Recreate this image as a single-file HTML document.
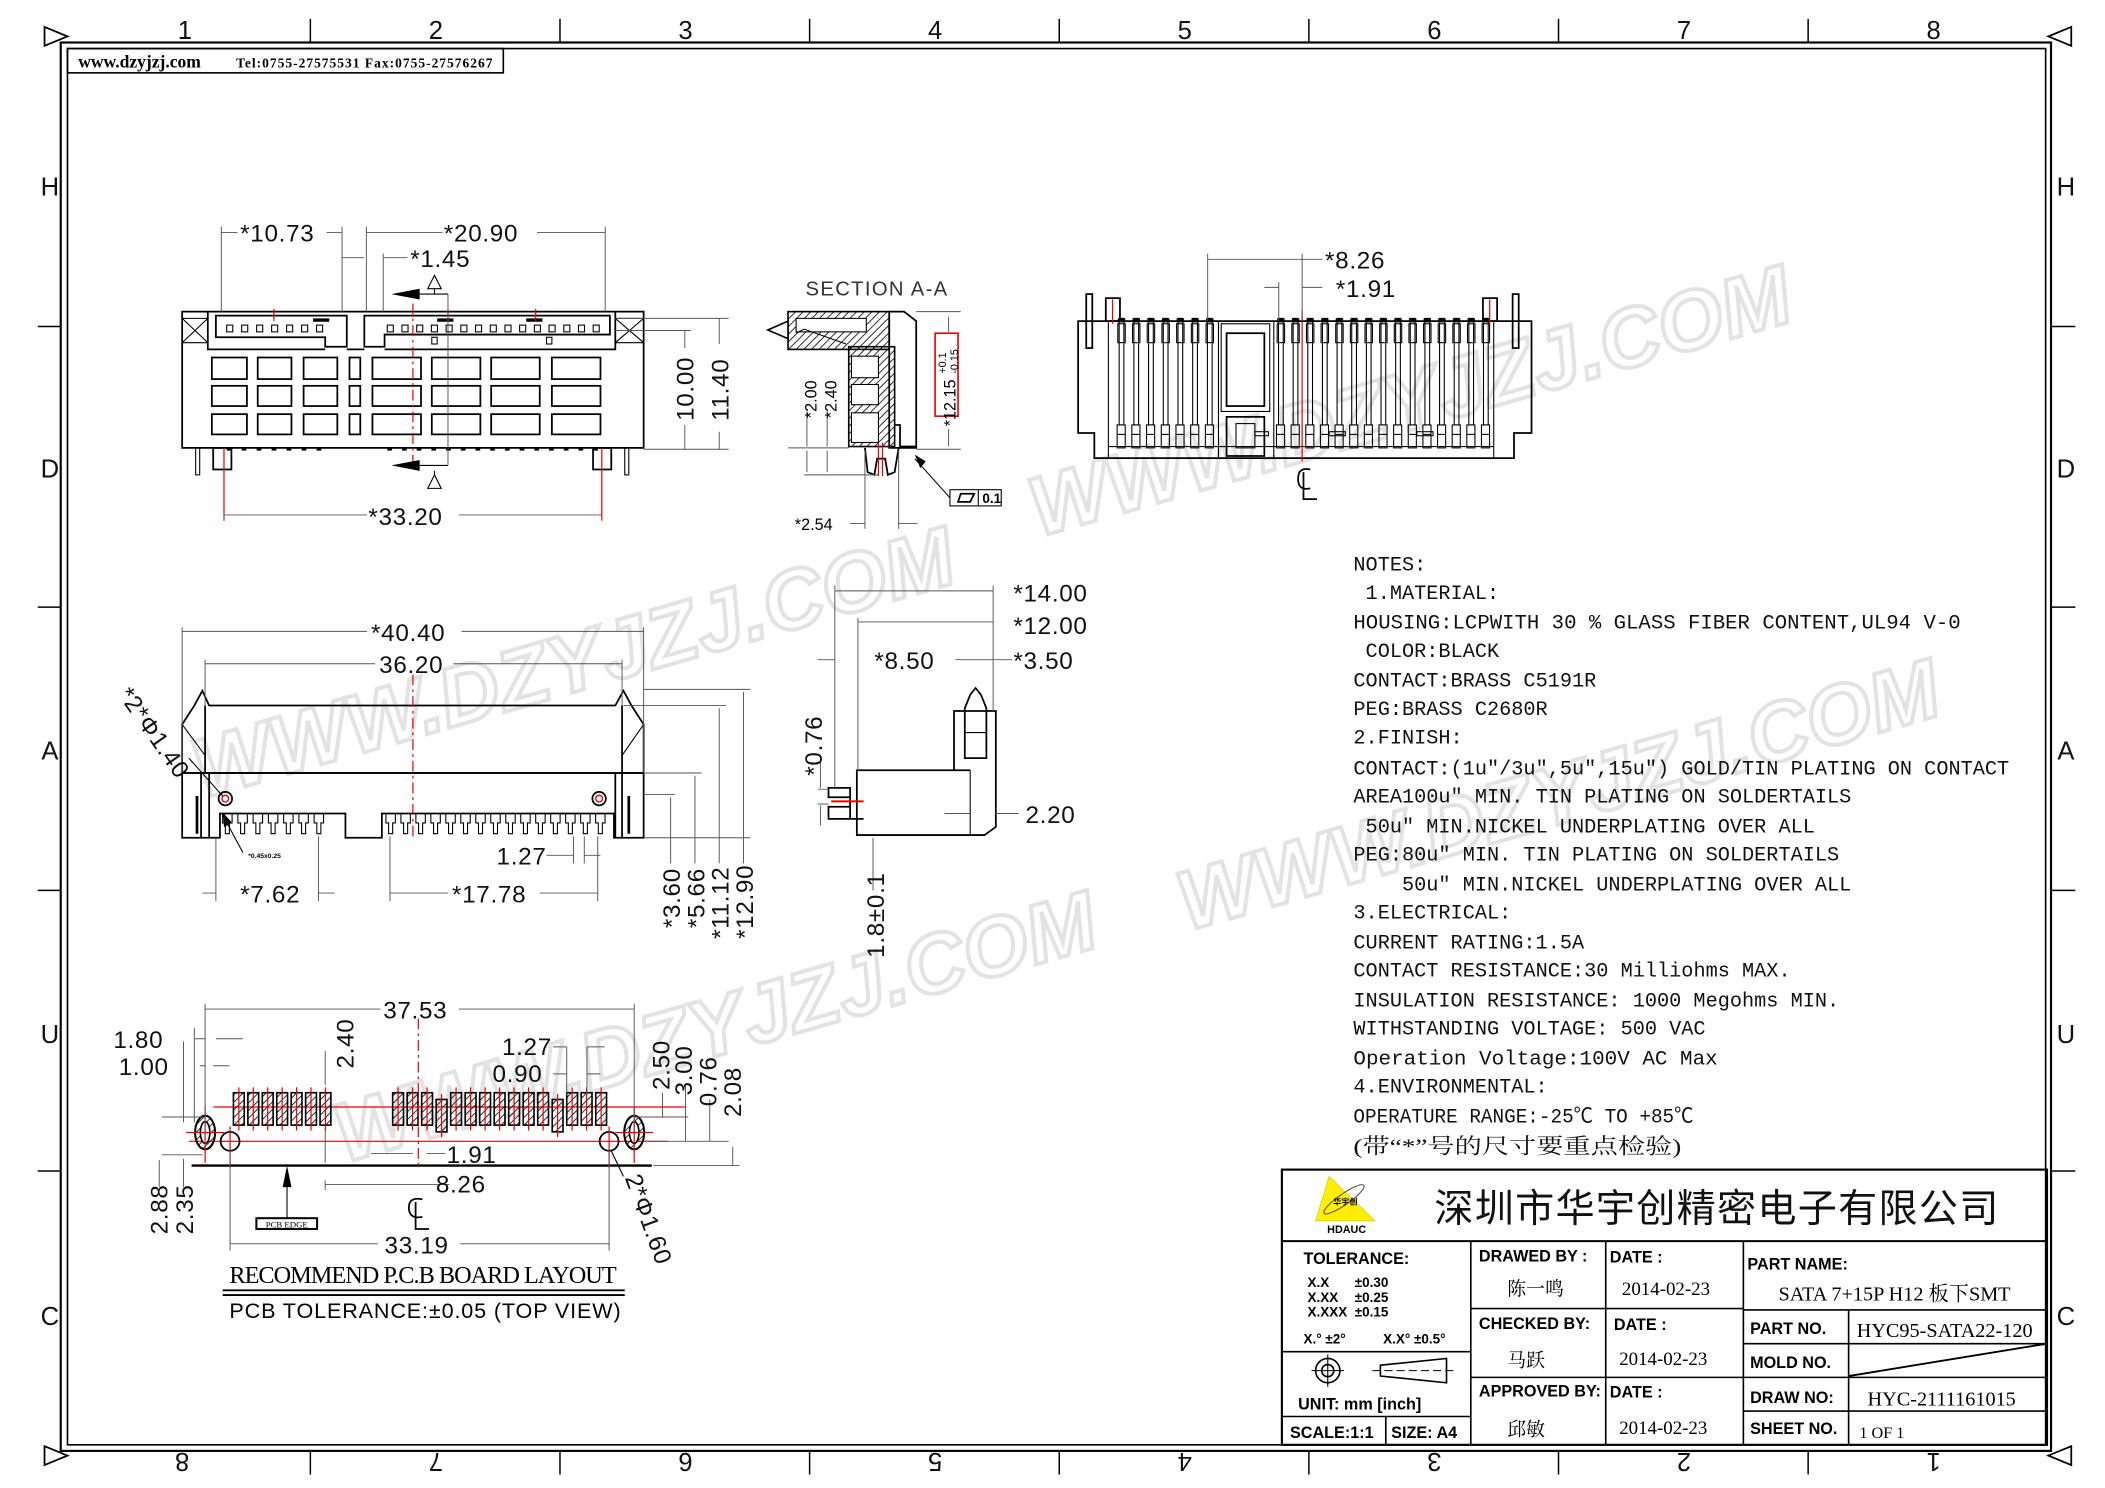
<!DOCTYPE html>
<html><head><meta charset="utf-8"><style>
html,body{margin:0;padding:0;background:#fff;}
svg{display:block;}
.o{fill:none;stroke:#000;stroke-width:1.3}
.t{fill:none;stroke:#000;stroke-width:0.8}
.d{fill:none;stroke:#555;stroke-width:0.7}
.r{fill:none;stroke:#e00;stroke-width:0.9}
.rd{fill:none;stroke:#e00;stroke-width:0.9;stroke-dasharray:8 3 2 3}
.dim{font-family:"Liberation Sans",sans-serif;font-size:18px;fill:#111;letter-spacing:0.5px}
.grid{font-family:"Liberation Sans",sans-serif;font-size:19px;fill:#111}
.mono{font-family:"Liberation Mono","Noto Sans CJK SC",monospace;font-size:15px;fill:#111}
.cjk{font-family:"Liberation Serif","Noto Serif CJK SC",serif;font-size:16px;fill:#111}
.tb{font-family:"Liberation Sans",sans-serif;font-size:12px;font-weight:bold;fill:#000}
.tbs{font-family:"Liberation Serif","Noto Serif CJK SC",serif;font-size:14px;fill:#000}
.wm{font-family:"Liberation Sans",sans-serif;font-size:62px;font-style:italic;font-weight:bold;fill:#fff;stroke:#bbb;stroke-width:3;opacity:0.4;letter-spacing:6px}
</style></head><body>
<svg id="s" width="2105" height="1488" viewBox="0 0 1560 1103" preserveAspectRatio="none" xmlns="http://www.w3.org/2000/svg">
<rect x="0" y="0" width="1560" height="1103" fill="#fff"/>
<g>
<text class="wm" x="0" y="0" transform="translate(770,398) rotate(-16)" textLength="590">WWW.DZYJZJ.COM</text>
<text class="wm" x="0" y="0" transform="translate(150,592) rotate(-16)" textLength="590">WWW.DZYJZJ.COM</text>
<text class="wm" x="0" y="0" transform="translate(880,690) rotate(-16)" textLength="590">WWW.DZYJZJ.COM</text>
<text class="wm" x="0" y="0" transform="translate(255,862) rotate(-16)" textLength="590">WWW.DZYJZJ.COM</text>
</g>
<rect x="45" y="31.5" width="1475" height="1044" fill="none" stroke="#000" stroke-width="1.6"/>
<rect x="50" y="36" width="1466" height="1035" fill="none" stroke="#000" stroke-width="1.2"/>
<g id="ticks" stroke="#000" stroke-width="1.1"></g>
<g class="grid">
<text x="137" y="29" text-anchor="middle">1</text><text x="323" y="29" text-anchor="middle">2</text><text x="508" y="29" text-anchor="middle">3</text><text x="693" y="29" text-anchor="middle">4</text><text x="878" y="29" text-anchor="middle">5</text><text x="1063" y="29" text-anchor="middle">6</text><text x="1248" y="29" text-anchor="middle">7</text><text x="1433" y="29" text-anchor="middle">8</text>
<text x="37" y="145" text-anchor="middle">H</text><text x="37" y="354" text-anchor="middle">D</text><text x="37" y="563" text-anchor="middle">A</text><text x="37" y="773" text-anchor="middle">U</text><text x="37" y="982" text-anchor="middle">C</text>
<text x="1531" y="145" text-anchor="middle">H</text><text x="1531" y="354" text-anchor="middle">D</text><text x="1531" y="563" text-anchor="middle">A</text><text x="1531" y="773" text-anchor="middle">U</text><text x="1531" y="982" text-anchor="middle">C</text>
<g transform="rotate(180 780 1084)">
<text x="127" y="1091" text-anchor="middle">1</text><text x="312" y="1091" text-anchor="middle">2</text><text x="497" y="1091" text-anchor="middle">3</text><text x="682" y="1091" text-anchor="middle">4</text><text x="867" y="1091" text-anchor="middle">5</text><text x="1052" y="1091" text-anchor="middle">6</text><text x="1237" y="1091" text-anchor="middle">7</text><text x="1425" y="1091" text-anchor="middle">8</text>
</g>
</g>
<polygon points="33,20 50,27 33,34" fill="none" stroke="#000" stroke-width="1.3"/>
<polygon points="1535,20 1518,27 1535,34" fill="none" stroke="#000" stroke-width="1.3"/>
<polygon points="33,1072 50,1079 33,1086" fill="none" stroke="#000" stroke-width="1.3"/>
<polygon points="1535,1072 1518,1079 1535,1086" fill="none" stroke="#000" stroke-width="1.3"/>
<rect x="50" y="36" width="323" height="18" fill="none" stroke="#000" stroke-width="1.2"/>
<text x="58" y="50" style="font-family:'Liberation Serif',serif;font-weight:bold;font-size:13px">www.dzyjzj.com</text>
<text x="175" y="50" style="font-family:'Liberation Serif',serif;font-weight:bold;font-size:10px" textLength="190">Tel:0755-27575531  Fax:0755-27576267</text>

<g id="v1">
<rect class="o" x="135" y="231" width="342" height="101"/>
<polyline class="o" points="154,231 154,259 241,259"/>
<polyline class="o" points="456,231 456,259 285,259"/>
<line class="o" x1="257" y1="259" x2="270" y2="259"/>
<path class="t" d="M135,236 L154,254 M154,236 L135,254 M456,236 L477,254 M477,236 L456,254 M135,236 H154 M135,254 H154 M456,236 H477 M456,254 H477"/>
<polygon class="o" points="160,234 257,234 257,257 241,257 241,250 160,250"/>
<polygon class="o" points="270,234 452,234 452,248 285,248 285,257 270,257"/>
<rect x="232" y="236" width="12" height="2.5" fill="#000"/>
<rect x="324" y="236" width="12" height="2.5" fill="#000"/>
<rect x="390" y="236" width="12" height="2.5" fill="#000"/>
<rect class="t" x="320" y="250" width="4" height="5"/><rect class="t" x="405" y="250" width="4" height="5"/>
<g id="v1win"></g>
<g id="v1pins"></g>
<rect class="o" x="158" y="332" width="13.5" height="16"/>
<rect class="o" x="439.5" y="332" width="13.5" height="16"/>
<rect class="t" x="145" y="332" width="3" height="20"/><rect class="t" x="463" y="332" width="3" height="20"/>
<line class="rd" x1="306" y1="225" x2="306" y2="345"/>
<line class="r" x1="166" y1="332" x2="166" y2="386"/><line class="r" x1="446" y1="332" x2="446" y2="386"/>
<line class="r" x1="203" y1="229" x2="203" y2="238"/><line class="r" x1="332" y1="229" x2="332" y2="238"/><line class="r" x1="397" y1="229" x2="397" y2="238"/>
<line class="d" x1="332" y1="218" x2="332" y2="345"/>
<polygon points="290,218 311,214 311,222" fill="#000"/><line class="t" x1="311" y1="218" x2="332" y2="218"/>
<polygon points="290,345 311,341 311,349" fill="#000"/><line class="t" x1="311" y1="345" x2="332" y2="345"/>
<polygon class="t" points="322,204 317,214 327,214"/><line class="t" x1="322" y1="214" x2="322" y2="218"/>
<polygon class="t" points="322,352 317,362 327,362"/><line class="t" x1="322" y1="349" x2="322" y2="352"/>
<path class="d" d="M164,168 V231 M253.5,168 V231 M271.5,168 V231 M448.5,168 V231 M284,188 V231 M164,172.3 H176 M242,172.3 H253.5 M271.5,172.3 H328 M398,172.3 H448.5 M284,191 H302 M253.5,191 H270 M166,386 V381.7 M166,381.7 H272 M340,381.7 H446 M456,245 H512 M477,333 H540 M507.5,245 V258 M507.5,315 V333 M533,236 V255 M533,320 V333 M456,236 H540"/>
<text class="dim" x="178" y="179">*10.73</text>
<text class="dim" x="329" y="179">*20.90</text>
<text class="dim" x="304" y="198">*1.45</text>
<text class="dim" x="273" y="389">*33.20</text>
<text class="dim" transform="translate(514,312) rotate(-90)">10.00</text>
<text class="dim" transform="translate(540,312) rotate(-90)">11.40</text>
</g>

<g id="sec">
<text x="597" y="219" style="font-family:'Liberation Sans',sans-serif;font-size:15px;fill:#333;letter-spacing:1px">SECTION A-A</text>
<defs><pattern id="h" width="4" height="4" patternUnits="userSpaceOnUse" patternTransform="rotate(45)"><line x1="0" y1="0" x2="0" y2="4" stroke="#000" stroke-width="1.2"/></pattern></defs>
<rect x="584" y="231" width="75" height="28" fill="url(#h)" stroke="#000" stroke-width="1.2"/>
<rect x="590" y="236" width="52" height="10" fill="#fff" stroke="#000" stroke-width="0.8"/>
<polygon points="584,238 569,244.6 584,251" fill="#fff" stroke="#000" stroke-width="1.2"/>
<polyline class="t" points="590,247 596,244 627,255"/>
<rect x="629" y="257" width="34" height="74" fill="url(#h)" stroke="#000" stroke-width="1.2"/>
<rect x="631" y="264" width="20" height="16" fill="#fff" stroke="#000" stroke-width="0.8"/>
<rect x="631" y="285" width="20" height="15" fill="#fff" stroke="#000" stroke-width="0.8"/>
<rect x="631" y="306" width="20" height="22" fill="#fff" stroke="#000" stroke-width="0.8"/>
<polygon class="o" points="659,231 670,231 679,238 679,332 659,332"/>
<polyline class="o" points="663,315 667,315 667,331 679,331"/>
<path class="o" d="M641,332 L643,350 L648,352 L650,340 L656,340 L658,352 L663,350 L666,332"/>
<line class="r" x1="651" y1="328" x2="651" y2="353"/><line class="r" x1="654" y1="328" x2="654" y2="353"/>
<rect x="693" y="247" width="17" height="61.5" fill="none" stroke="#e00" stroke-width="1.2"/>
<text transform="translate(708,316) rotate(-90)" style="font-family:'Liberation Sans',sans-serif;font-size:12px">*12.15</text>
<text transform="translate(701,277) rotate(-90)" style="font-family:'Liberation Sans',sans-serif;font-size:8px">+0.1</text>
<text transform="translate(710,277) rotate(-90)" style="font-family:'Liberation Sans',sans-serif;font-size:8px">-0.15</text>
<path class="d" d="M679,231 H712 M679,333 H712 M703,235 V246 M703,318 V331 M584,332 H629 M596,352 H651 M598,305 V331 M613,305 V331 M598,334 V350 M613,334 V350 M641,334 V392 M666,334 V392 M630,388 H641 M666,388 H680"/>
<text transform="translate(605,310) rotate(-90)" style="font-family:'Liberation Sans',sans-serif;font-size:12px">*2.00</text>
<text transform="translate(620,310) rotate(-90)" style="font-family:'Liberation Sans',sans-serif;font-size:12px">*2.40</text>
<text x="589" y="393" style="font-family:'Liberation Sans',sans-serif;font-size:12px">*2.54</text>
<line class="t" x1="678" y1="340" x2="704" y2="369"/><polygon points="678,337 682,347 686,342" fill="#000"/>
<rect class="t" x="704" y="363" width="38" height="12"/><line class="t" x1="725" y1="363" x2="725" y2="375"/>
<polygon class="o" points="710,372 712,366 722,366 719,372"/>
<text x="728" y="373" style="font-family:'Liberation Sans',sans-serif;font-size:10px;font-weight:bold">0.1</text>
</g>

<g id="v3">
<polygon class="o" points="799,238 1135,238 1135,321 1122,321 1122,339.6 811,339.6 811,321 799,321"/>
<line class="t" x1="821.4" y1="238" x2="821.4" y2="339.6"/><line class="t" x1="1107" y1="238" x2="1107" y2="339.6"/>
<line class="t" x1="821.4" y1="331" x2="1107" y2="331"/>
<rect class="o" x="909" y="247" width="28" height="54"/>
<rect class="t" x="905" y="240" width="36" height="65"/>
<rect class="o" x="909" y="309" width="28" height="29"/><rect class="t" x="916" y="314" width="14" height="18"/>
<line class="t" x1="944" y1="238" x2="944" y2="339.6"/><line class="t" x1="903" y1="238" x2="903" y2="339.6"/>
<g id="v3pins"></g>
<rect class="o" x="819.5" y="221" width="10.5" height="17"/><rect class="o" x="1099" y="221" width="10.5" height="17"/>
<line class="r" x1="824.5" y1="222" x2="824.5" y2="240"/><line class="r" x1="1104" y1="222" x2="1104" y2="240"/>
<rect class="o" x="805" y="218" width="4.5" height="40"/><rect class="o" x="1121" y="218" width="4.5" height="40"/>
<rect class="t" x="930" y="320" width="10" height="3" fill="#000"/><rect class="t" x="985" y="320" width="12" height="3" fill="#000"/><rect class="t" x="1050" y="320" width="12" height="3" fill="#000"/>
<line class="r" x1="965" y1="230" x2="965" y2="342"/>
<path class="o" d="M971,348 Q962,346 962,355 Q962,364 971,362 M966,350 V370 H976"/>
<path class="d" d="M895,188 V238 M895,192.2 H965 M965,188 V238 M947.7,209 V238 M937,213 H947.7 M965,213 H980 M965,192.2 H980"/>
<text class="dim" x="982" y="199">*8.26</text>
<text class="dim" x="990" y="220">*1.91</text>
</g>

<g id="v4">
<polygon class="o" points="135,573 135,537 144,523 144,523 150,512 155,523 456,523 462,512 468,523 477,537 477,573"/>
<line class="o" x1="152" y1="523" x2="152" y2="573"/><line class="o" x1="461" y1="523" x2="461" y2="573"/>
<line class="t" x1="135" y1="537" x2="152" y2="560"/><line class="t" x1="477" y1="537" x2="461" y2="560"/>
<polygon class="o" points="135,573 477,573 477,621 455,621 455,603 283,603 283,621 256,621 256,603 163,603 163,621 135,621"/>
<line class="o" x1="149" y1="573" x2="149" y2="621"/><line class="o" x1="461" y1="573" x2="461" y2="621"/>
<line class="o" x1="456" y1="573" x2="456" y2="621"/><line class="o" x1="155" y1="573" x2="155" y2="621"/>
<rect x="145" y="590" width="2" height="28" fill="#000"/><rect x="465" y="590" width="2" height="28" fill="#000"/>
<circle cx="167" cy="592" r="5" class="o"/><circle cx="167" cy="592" r="2.5" fill="none" stroke="#e00"/>
<circle cx="444" cy="592" r="5" class="o"/><circle cx="444" cy="592" r="2.5" fill="none" stroke="#e00"/>
<g id="v4teeth"></g>
<line class="rd" x1="306" y1="500" x2="306" y2="622"/>
<path class="d" d="M135,465 V573 M477,465 V573 M152,489 V523 M461,489 V523 M135,468 H272 M342,468 H477 M152,492 H278 M336,492 H461 M477,511 H556 M462,523 H538 M477,573 H520 M477,589 H500 M477,621 H556 M497,591 V640 M515,575 V640 M533,525 V640 M551,513 V640 M160,620 V668 M236,620 V668 M289,620 V668 M443,620 V668 M425,620 V640 M433,620 V640 M405,634 H425 M433,634 H445 M150,662 H160 M236,662 H248 M289,662 H332 M400,662 H443"/>
<line class="t" x1="165" y1="604" x2="180" y2="632"/><polygon points="165,602 166,613 172,610" fill="#000"/>
<text x="184" y="636" style="font-family:'Liberation Sans',sans-serif;font-size:5px;font-weight:bold">*0.45x0.25</text>
<text class="dim" x="275" y="475">*40.40</text>
<text class="dim" x="281" y="499">36.20</text>
<text class="dim" x="368" y="641">1.27</text>
<text class="dim" x="178" y="669">*7.62</text>
<text class="dim" x="335" y="669">*17.78</text>
<text class="dim" transform="translate(504,688) rotate(-90)">*3.60</text>
<text class="dim" transform="translate(522,688) rotate(-90)">*5.66</text>
<text class="dim" transform="translate(540,696) rotate(-90)">*11.12</text>
<text class="dim" transform="translate(558,696) rotate(-90)">*12.90</text>
<text class="dim" transform="translate(87,515) rotate(55)">*2*Φ1.40</text>
<line class="t" x1="140" y1="562" x2="165" y2="590"/>
</g>

<g id="v5">
<polygon class="o" points="707,527 738,527 738,613 729.6,619 635,619 635,571 707,571"/>
<line class="o" x1="707" y1="571" x2="719" y2="571"/><line class="t" x1="719" y1="571" x2="719" y2="619"/>
<polygon class="o" points="715,525 719,515 723,510 727,515 731,525 731,562 715,562"/>
<line class="t" x1="715" y1="543" x2="731" y2="543"/>
<path class="o" d="M614,584 H630 V591 H614 Z M614,598 H630 V607 H614 Z M630,584 V607 H640"/>
<line x1="616" y1="594" x2="640" y2="594" stroke="#e00" stroke-width="1.5"/>
<path class="d" d="M618.7,434 V584 M736,434 V527 M635.8,458 V571 M618.7,438 H736 M635.8,461 H736 M606,489 H619 M708,489 H736 M736,489 H750 M700,603 H719 M738,603 H755 M647,621 V660 M606,585 H614 M606,596 H614 M608,560 V584 M608,597 V612"/>
<text class="dim" x="751" y="446">*14.00</text>
<text class="dim" x="751" y="470">*12.00</text>
<text class="dim" x="648" y="496">*8.50</text>
<text class="dim" x="751" y="496">*3.50</text>
<text class="dim" x="760" y="610">2.20</text>
<text class="dim" transform="translate(609,575) rotate(-90)">*0.76</text>
<text class="dim" transform="translate(655,710) rotate(-90)">1.8±0.1</text>
</g>

<g id="v6">
<line x1="142" y1="864" x2="483" y2="864" stroke="#000" stroke-width="1.8"/>
<line class="r" x1="158" y1="820.6" x2="508" y2="820.6"/>
<line class="r" x1="140" y1="846" x2="495" y2="846"/>
<g id="pads"></g>
<ellipse cx="152" cy="839.5" rx="7.4" ry="12.5" fill="url(#h)" stroke="#000" stroke-width="1.5"/>
<ellipse cx="152" cy="839.5" rx="3.5" ry="8" fill="#fff" stroke="#000" stroke-width="1.2"/>
<ellipse cx="470" cy="839.5" rx="7.4" ry="12.5" fill="url(#h)" stroke="#000" stroke-width="1.5"/>
<ellipse cx="470" cy="839.5" rx="3.5" ry="8" fill="#fff" stroke="#000" stroke-width="1.2"/>
<circle class="o" cx="170.5" cy="846" r="7"/><circle class="o" cx="451.4" cy="846" r="7"/>
<line class="r" x1="152" y1="820" x2="152" y2="862"/><line class="r" x1="170.5" y1="835" x2="170.5" y2="866"/>
<line class="r" x1="451.4" y1="835" x2="451.4" y2="866"/><line class="r" x1="470" y1="820" x2="470" y2="862"/>
<line class="r" x1="138" y1="839.5" x2="166" y2="839.5"/><line class="r" x1="456" y1="839.5" x2="484" y2="839.5"/>
<line class="rd" x1="310" y1="755" x2="310" y2="865"/>
<path class="o" d="M313,889 Q303,887 303,895 Q303,904 313,902 M308,891 V911 H318"/>
<rect x="190" y="903" width="45" height="8" fill="none" stroke="#000" stroke-width="1.5"/>
<text x="212.5" y="910" text-anchor="middle" style="font-family:'Liberation Serif',serif;font-size:6.5px">PCB EDGE</text>
<line class="t" x1="212.7" y1="903" x2="212.7" y2="872"/><polygon points="212.7,864 209.5,880 216,880" fill="#000"/>
<path class="d" d="M152,744 V839 M470,744 V839 M152,748 H282 M340,748 H470 M144,770 H152 M160,770 H180 M148,790 H152 M158,790 H170 M144,762 V832 M136,772 V832 M120,828 H150 M120,856 H150 M118,860 V880 M136,859 V880 M241,779 V804 M241,836 V862 M241,875 V882 M241,878 H310 M310,878 H333 M275,855 H306 M316,855 H330 M420,776 V812 M435,776 V812 M410,776 H420 M435,776 H448 M410,796 H420 M435,796 H445 M470,828 H510 M476,846 H540 M484,864 H548 M491,810 V828 M508,805 V846 M526,815 V846 M543,850 V864 M170.5,852 V927 M451.4,852 V927 M170.5,922 H280 M341,922 H451.4"/>
<text class="dim" x="84" y="777">1.80</text>
<text class="dim" x="88" y="797">1.00</text>
<text class="dim" x="284" y="755">37.53</text>
<text class="dim" x="372" y="782">1.27</text>
<text class="dim" x="365" y="802">0.90</text>
<text class="dim" x="331" y="862">1.91</text>
<text class="dim" x="323" y="884">8.26</text>
<text class="dim" x="285" y="929">33.19</text>
<text class="dim" transform="translate(262,792) rotate(-90)">2.40</text>
<text class="dim" transform="translate(496,808) rotate(-90)">2.50</text>
<text class="dim" transform="translate(513,812) rotate(-90)">3.00</text>
<text class="dim" transform="translate(531,820) rotate(-90)">0.76</text>
<text class="dim" transform="translate(549,828) rotate(-90)">2.08</text>
<text class="dim" transform="translate(124,915) rotate(-90)">2.88</text>
<text class="dim" transform="translate(143,915) rotate(-90)">2.35</text>
<text class="dim" transform="translate(463,873) rotate(70)">2*Φ1.60</text>
<line class="t" x1="453" y1="853" x2="462" y2="872"/>
<text x="170" y="951" style="font-family:'Liberation Serif',serif;font-size:18px" textLength="287">RECOMMEND P.C.B BOARD LAYOUT</text>
<line x1="165" y1="956.5" x2="463" y2="956.5" stroke="#000" stroke-width="1.4"/>
<line x1="165" y1="960" x2="463" y2="960" stroke="#000" stroke-width="1.4"/>
<text x="170" y="977" style="font-family:'Liberation Sans',sans-serif;font-size:16px" textLength="290">PCB TOLERANCE:±0.05 (TOP VIEW)</text>
</g>

<g>
<text class="mono" x="1003" y="423">NOTES:</text>
<text class="mono" x="1012" y="444">1.MATERIAL:</text>
<text class="mono" x="1003" y="466">HOUSING:LCPWITH 30 % GLASS FIBER  CONTENT,UL94 V-0</text>
<text class="mono" x="1012" y="487">COLOR:BLACK</text>
<text class="mono" x="1003" y="509">CONTACT:BRASS C5191R</text>
<text class="mono" x="1003" y="530">PEG:BRASS C2680R</text>
<text class="mono" x="1003" y="551">2.FINISH:</text>
<text class="mono" x="1003" y="574">CONTACT:(1u″/3u″,5u″,15u″) GOLD/TIN PLATING ON CONTACT</text>
<text class="mono" x="1003" y="595">AREA100u″ MIN. TIN PLATING ON SOLDERTAILS</text>
<text class="mono" x="1012" y="617">50u″ MIN.NICKEL UNDERPLATING OVER ALL</text>
<text class="mono" x="1003" y="638">PEG:80u″ MIN. TIN PLATING ON SOLDERTAILS</text>
<text class="mono" x="1039" y="660">50u″ MIN.NICKEL UNDERPLATING OVER ALL</text>
<text class="mono" x="1003" y="681">3.ELECTRICAL:</text>
<text class="mono" x="1003" y="703">CURRENT RATING:1.5A</text>
<text class="mono" x="1003" y="724">CONTACT RESISTANCE:30 Milliohms MAX.</text>
<text class="mono" x="1003" y="746">INSULATION RESISTANCE: 1000 Megohms MIN.</text>
<text class="mono" x="1003" y="767">WITHSTANDING VOLTAGE: 500 VAC</text>
<text class="mono" x="1003" y="789">Operation  Voltage:100V AC Max</text>
<text class="mono" x="1003" y="810">4.ENVIRONMENTAL:</text>
<text class="mono" x="1003" y="832">OPERATURE RANGE:-25℃ TO +85℃</text>
<text class="cjk" x="1003" y="855" textLength="243" lengthAdjust="spacingAndGlyphs">(带“*”号的尺寸要重点检验)</text>
</g>

<g>
<rect x="950" y="867" width="567" height="204" fill="none" stroke="#000" stroke-width="1.6"/>
<line x1="950" y1="920" x2="1517" y2="920" stroke="#000" stroke-width="1.4"/>
<path d="M1090,920 V1071 M1190,920 V1071 M1292,920 V1071 M1090,970 H1292 M1090,1021 H1292 M1292,971 H1517 M1292,996 H1517 M1292,1021 H1517 M1292,1046 H1517 M1370,971 V1071 M950,1002 H1090 M950,1050 H1090 M1027,1050 V1071" fill="none" stroke="#000" stroke-width="1.2"/>
<line x1="1370" y1="1020" x2="1517" y2="996" stroke="#000" stroke-width="1.4"/>
<polygon points="985,872 975,905 1019,905" fill="#ffee00" stroke="#cc0" stroke-width="0.5"/>
<ellipse cx="996" cy="889" rx="18" ry="4" fill="none" stroke="#555" stroke-width="0.8" transform="rotate(-35 996 889)"/>
<text x="997" y="893" text-anchor="middle" style="font-family:'Noto Sans CJK SC',sans-serif;font-size:6px;font-weight:bold">华宇创</text>
<text x="998" y="914" text-anchor="middle" style="font-family:'Liberation Sans',sans-serif;font-size:8px;font-weight:bold">HDAUC</text>
<text x="1063" y="906" style="font-family:'Liberation Sans','Noto Sans CJK SC',sans-serif;font-size:29px;fill:#111" textLength="418">深圳市华宇创精密电子有限公司</text>
<text class="tb" x="966" y="937">TOLERANCE:</text>
<text class="tb" x="969" y="954" style="font-size:10px">X.X</text><text class="tb" x="1004" y="954" style="font-size:10px">±0.30</text>
<text class="tb" x="969" y="965" style="font-size:10px">X.XX</text><text class="tb" x="1004" y="965" style="font-size:10px">±0.25</text>
<text class="tb" x="969" y="976" style="font-size:10px">X.XXX</text><text class="tb" x="1004" y="976" style="font-size:10px">±0.15</text>
<text class="tb" x="966" y="996" style="font-size:10px">X.° ±2°</text><text class="tb" x="1025" y="996" style="font-size:10px">X.X° ±0.5°</text>
<circle cx="984" cy="1016" r="9" fill="none" stroke="#000" stroke-width="1.2"/><circle cx="984" cy="1016" r="4.5" fill="none" stroke="#000" stroke-width="1.2"/>
<path d="M972,1016 H996 M984,1004 V1028" stroke="#000" stroke-width="0.8"/>
<polygon points="1023,1012 1072,1007 1072,1025 1023,1020" fill="none" stroke="#000" stroke-width="1.2"/>
<line x1="1017" y1="1016" x2="1077" y2="1016" stroke="#000" stroke-width="0.8" stroke-dasharray="6 3"/>
<text class="tb" x="962" y="1045">UNIT:  mm  [inch]</text>
<text class="tb" x="956" y="1066">SCALE:1:1</text>
<text class="tb" x="1031" y="1066">SIZE:  A4</text>
<text class="tb" x="1096" y="935">DRAWED  BY :</text>
<text class="tb" x="1193" y="936">DATE  :</text>
<text class="tbs" x="1117" y="960">陈一鸣</text>
<text class="tbs" x="1202" y="960">2014-02-23</text>
<text class="tb" x="1096" y="985">CHECKED  BY:</text>
<text class="tb" x="1196" y="986">DATE  :</text>
<text class="tbs" x="1117" y="1013">马跃</text>
<text class="tbs" x="1200" y="1012">2014-02-23</text>
<text class="tb" x="1096" y="1035">APPROVED  BY:</text>
<text class="tb" x="1193" y="1036">DATE  :</text>
<text class="tbs" x="1117" y="1064">邱敏</text>
<text class="tbs" x="1200" y="1063">2014-02-23</text>
<text class="tb" x="1295" y="941">PART  NAME:</text>
<text class="tbs" x="1318" y="964" style="font-size:15px">SATA  7+15P  H12  板下SMT</text>
<text class="tb" x="1297" y="989">PART  NO.</text>
<text class="tbs" x="1376" y="991" style="font-size:15px">HYC95-SATA22-120</text>
<text class="tb" x="1297" y="1014">MOLD  NO.</text>
<text class="tb" x="1297" y="1040">DRAW  NO:</text>
<text class="tbs" x="1384" y="1042" style="font-size:15px">HYC-2111161015</text>
<text class="tb" x="1297" y="1063">SHEET  NO.</text>
<text class="tbs" x="1378" y="1066" style="font-size:12px">1  OF  1</text>
</g>
</svg>
<script>
(function(){
var NS="http://www.w3.org/2000/svg";
function el(p,t,a){var e=document.createElementNS(NS,t);for(var k in a)e.setAttribute(k,a[k]);p.appendChild(e);return e;}
var g=document.getElementById('ticks');
[230,415,600,785,970,1155,1340].forEach(function(x){el(g,'line',{x1:x,y1:14,x2:x,y2:31});el(g,'line',{x1:x,y1:1076,x2:x,y2:1093});});
[242,450,660,868].forEach(function(y){el(g,'line',{x1:28,y1:y,x2:45,y2:y});el(g,'line',{x1:1520,y1:y,x2:1538,y2:y});});
var w=document.getElementById('v1win');
var cols=[[157,183],[191,216],[225,250],[259,267],[276,312],[320,356],[364,400],[409,445]];
var rows=[[265,281],[286,301],[307,322]];
cols.forEach(function(c){rows.forEach(function(r){el(w,'rect',{x:c[0],y:r[0],width:c[1]-c[0],height:r[1]-r[0],'class':'o'});});});
var p=document.getElementById('v1pins');
for(var i=0;i<7;i++){var x=168+i*11.1;el(p,'rect',{x:x,y:241,width:4.5,height:5,'class':'t'});el(p,'rect',{x:x,y:332,width:3.5,height:2,fill:'#000'});}
for(var i=0;i<15;i++){var x=287+i*10.9;el(p,'rect',{x:x,y:241,width:4.5,height:5,'class':'t'});el(p,'rect',{x:x,y:332,width:3.5,height:2,fill:'#000'});}
var q=document.getElementById('v3pins');
function pin(x){el(q,'rect',{x:x,y:236,width:3.5,height:79,'class':'t'});el(q,'rect',{x:x-1,y:236,width:5.5,height:3,fill:'#000'});el(q,'rect',{x:x-1.5,y:315,width:6,height:17,'class':'t'});el(q,'line',{x1:x-1.5,y1:322,x2:x+4.5,y2:322,'class':'t'});el(q,'rect',{x:x-1,y:240,width:5.5,height:14,'class':'t'});}
for(var i=0;i<7;i++)pin(829.4+i*10.9);
for(var i=0;i<15;i++)pin(947.5+i*10.85);
var t=document.getElementById('v4teeth');
function teeth(x0,n,s){for(var i=0;i<n;i++){var x=x0+i*s;el(t,'polyline',{points:(x)+',603 '+(x)+',610 '+(x+2)+',610 '+(x+2)+',618 '+(x+5)+',618 '+(x+5)+',610 '+(x+7)+',610 '+(x+7)+',603','class':'t'});}}
teeth(165,7,11.3);teeth(286,15,11.1);
var pd=document.getElementById('pads');
function pad(x,y){el(pd,'rect',{x:x,y:y,width:8,height:24,fill:'url(#h)',stroke:'#000','stroke-width':1.2});el(pd,'line',{x1:x+4,y1:y-4,x2:x+4,y2:y+28,'class':'r'});}
for(var i=0;i<7;i++)pad(173+i*10.7,810);
for(var i=0;i<15;i++){var lo=(i==3||i==11);pad(291+i*10.75,lo?815:810);}
document.querySelectorAll('text.mono').forEach(function(e){var n=e.textContent.length;e.setAttribute('textLength',n*9.0);e.setAttribute('lengthAdjust','spacingAndGlyphs');});
})();
</script>
</body></html>
